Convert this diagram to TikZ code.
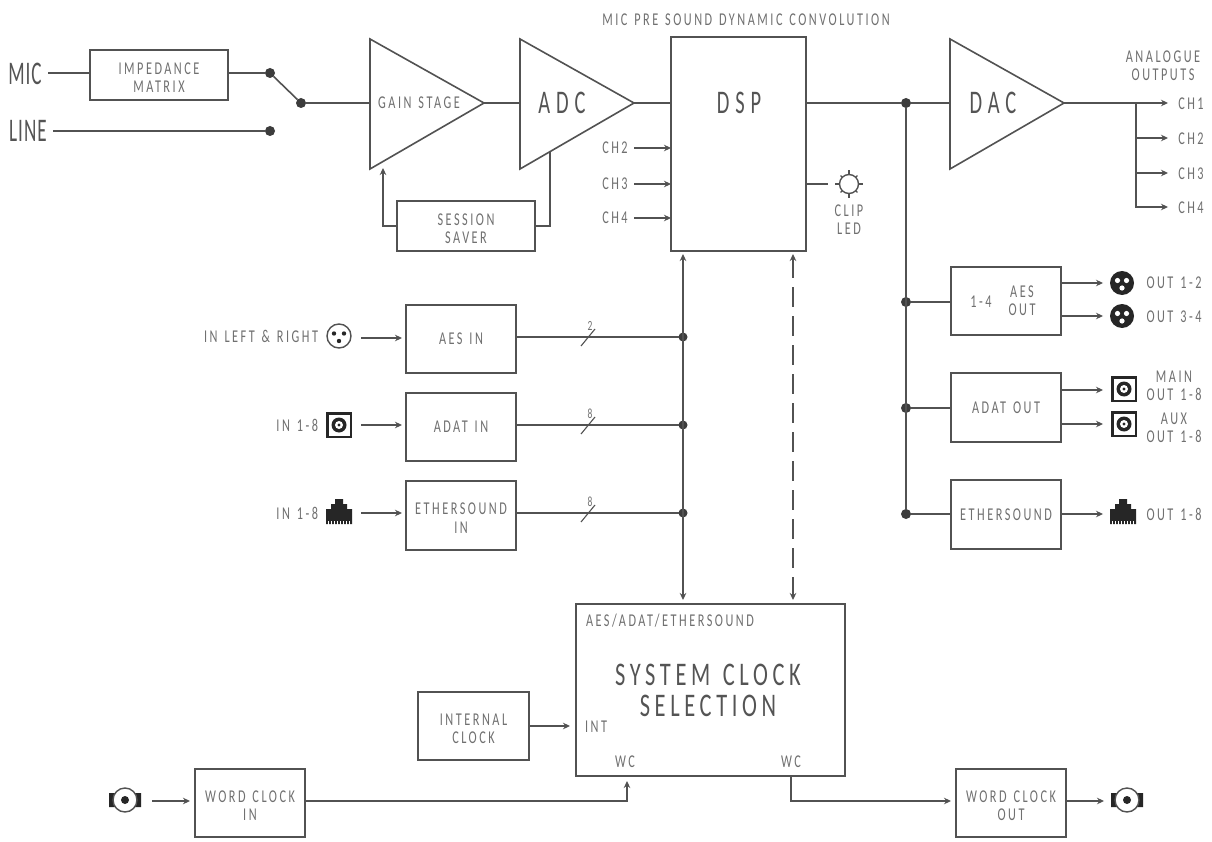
\documentclass[tikz,border=0pt]{standalone}
\usepackage{fontspec}
\usetikzlibrary{arrows.meta,calc}
\newfontfamily\din[FakeStretch=0.68,LetterSpace=14,WordSpace=1.3]{Carlito}
\newfontfamily\dinw[FakeStretch=0.62,LetterSpace=18]{Carlito}
\newfontfamily\dinn[FakeStretch=0.58,LetterSpace=3]{Carlito}
\definecolor{ln}{gray}{0.32}
\definecolor{txt}{gray}{0.44}
\definecolor{big}{gray}{0.33}
\definecolor{ink}{gray}{0.15}
\newcommand{\tp}{\rule{0pt}{17pt}}
\tikzset{
  x=1pt,y=-1pt,
  wire/.style={draw=ln,line width=1.6pt},
  arr/.style={wire,-{Stealth[length=7pt,width=6.5pt]}},
  darr/.style={wire,{Stealth[length=7pt,width=6.5pt]}-{Stealth[length=7pt,width=6.5pt]}},
  box/.style={draw=ln,line width=1.6pt,inner sep=0pt,outer sep=0pt,align=center,text=txt,
    font=\din\fontsize{18}{18.5}\selectfont},
  tri/.style={draw=ln,line width=1.6pt,line join=miter},
  lbl/.style={inner sep=0pt,outer sep=0pt,align=center,text=txt,font=\din\fontsize{18}{18}\selectfont},
  small/.style={inner sep=0pt,outer sep=0pt,align=center,text=txt,font=\din\fontsize{14}{16}\selectfont},
  bigl/.style={inner sep=0pt,outer sep=0pt,align=center,text=big,font=\dinw\fontsize{33}{33}\selectfont},
  inl/.style={inner sep=0pt,outer sep=0pt,text=big,font=\dinn\fontsize{33}{33}\selectfont},
  midl/.style={inner sep=0pt,outer sep=0pt,align=center,text=big,font=\din\fontsize{33}{31}\selectfont},
  dot/.style={circle,fill=ink!90,inner sep=0pt,outer sep=0pt,minimum size=10pt},
  pics/xlro/.style={code={
    \draw[ln,line width=1.4pt] (0,0) circle (12pt);
    \fill[ink] (-5,-2.5) circle (2.2pt) (5,-2.5) circle (2.2pt) (0,5) circle (2.2pt);}},
  pics/xlrf/.style={code={
    \fill[ink] (0,0) circle (12pt);
    \fill[white] (-4.5,-2.5) circle (2.6pt) (4.5,-2.5) circle (2.6pt) (0,5) circle (2.6pt);}},
  pics/opt/.style={code={
    \fill[ink] (-13,-13) rectangle (13,13);
    \fill[white] (-10.5,-10.5) rectangle (10.5,10.5);
    \fill[ink] (0,0) circle (7.5pt);
    \fill[white] (0,0) circle (4pt);
    \fill[ink] (0,0) circle (1.6pt);}},
  pics/rj/.style={code={
    \fill[ink] (-13,12) -- (-13,-3) -- (-8,-3) -- (-8,-8) -- (-4,-8) -- (-4,-13) -- (4,-13) -- (4,-8)
       -- (8,-8) -- (8,-3) -- (13,-3) -- (13,12) -- cycle;
    \foreach \q in {-11,-8,-5,-2,1,4,7,10}{\draw[white,line width=.6pt] (\q,9) -- (\q,12.5);}}},
  pics/bnc/.style={code={
    \fill[ink] (-16,-7) rectangle (-8,7) (8,-7) rectangle (16,7);
    \draw[ln,line width=1.4pt,fill=white] (0,0) circle (12pt);
    \fill[ink] (0,0) circle (4pt);}},
}
\begin{document}
\begin{tikzpicture}
\useasboundingbox (0,0) rectangle (1212,842);
\fill[white] (0,0) rectangle (1212,842);

% triangles
\coordinate (g1) at (370,39); \coordinate (g2) at (370,169); \coordinate (gO) at (484,103); \coordinate (gI) at (370,103);
\coordinate (a1) at (520,39); \coordinate (a2) at (520,169); \coordinate (aO) at (634,103); \coordinate (aI) at (520,103);
\coordinate (d1) at (950,39); \coordinate (d2) at (950,169); \coordinate (dO) at (1064,103); \coordinate (dI) at (950,103);
\draw[tri] (g1) -- (gO) -- (g2) -- cycle;
\draw[tri] (a1) -- (aO) -- (a2) -- cycle;
\draw[tri] (d1) -- (dO) -- (d2) -- cycle;
\node[lbl] (gtxt) at (419,103) {GAIN STAGE};
\node[bigl] (atxt) at (562,103) {ADC};
\node[bigl] (dtxt) at (993,103) {DAC};

% boxes
\node[box,minimum width=138pt,minimum height=50pt] (imp) at (159,75) {\tp IMPEDANCE\\MATRIX};
\node[box,minimum width=138pt,minimum height=50pt] (sess) at (466,226) {\tp SESSION\\SAVER};
\node[box,minimum width=135pt,minimum height=214pt] (dsp) at (738.5,144) {};
\node[bigl] (dsptxt) at (739,103) {DSP};
\node[box,minimum width=110pt,minimum height=68pt] (aesin) at (461,339) {AES IN};
\node[box,minimum width=110pt,minimum height=68pt] (adatin) at (461,427) {ADAT IN};
\node[box,minimum width=110pt,minimum height=69pt] (ethin) at (461,515.5) {\tp ETHERSOUND\\IN};
\node[box,minimum width=110pt,minimum height=68pt] (aesout) at (1006,301) {};
\node[lbl] (fourt) at (981,302) {1-4};
\node[lbl] (aesot) at (1022,301) {AES\\OUT};
\node[box,minimum width=110pt,minimum height=69pt] (adatout) at (1006,407.5) {ADAT OUT};
\node[box,minimum width=110pt,minimum height=69pt] (ethout) at (1006,514.5) {ETHERSOUND};
\node[box,minimum width=269pt,minimum height=172pt] (sys) at (710.5,690) {};
\node[box,minimum width=111pt,minimum height=68pt] (intc) at (473.5,726) {\tp INTERNAL\\CLOCK};
\node[box,minimum width=110pt,minimum height=68pt] (wcin) at (250,803) {\tp WORD CLOCK\\IN};
\node[box,minimum width=110pt,minimum height=68pt] (wcout) at (1011,803) {\tp WORD CLOCK\\OUT};

% texts
\node[inl] (mic) at (25,74) {MIC};
\node[inl] (line) at (28,131) {LINE};
\node[lbl] (title) at (746,20) {MIC PRE SOUND DYNAMIC CONVOLUTION};
\node[lbl] (ch2) at (615,148) {CH2};
\node[lbl] (ch3) at (615,184) {CH3};
\node[lbl] (ch4) at (615,218) {CH4};
\node[lbl] (anal) at (1163,66) {ANALOGUE\\OUTPUTS};
\node[lbl] (och1) at (1191,104) {CH1};
\node[lbl] (och2) at (1191,139) {CH2};
\node[lbl] (och3) at (1191,174) {CH3};
\node[lbl] (och4) at (1191,208) {CH4};
\node[lbl] (clip) at (849,219.5) {CLIP\\LED};
\node[lbl,anchor=east] (inlr) at (318,336) {IN LEFT \& RIGHT};
\node[lbl,anchor=east] (in18a) at (318,425) {IN 1-8};
\node[lbl,anchor=east] (in18b) at (318,513) {IN 1-8};
\node[lbl] (o12) at (1174,283) {OUT 1-2};
\node[lbl] (o34) at (1174,317) {OUT 3-4};
\node[lbl] (omain) at (1174,386) {MAIN\\OUT 1-8};
\node[lbl] (oaux) at (1174,428) {AUX\\OUT 1-8};
\node[lbl] (oeth) at (1174,514) {OUT 1-8};
\node[small] (n2) at (590,326) {2};
\node[small] (n8a) at (590,414) {8};
\node[small] (n8b) at (590,502) {8};
\node[lbl,anchor=west] (aat) at (586,621) {AES/ADAT/ETHERSOUND};
\node[midl] (sct) at (708,690) {SYSTEM CLOCK\\SELECTION};
\node[lbl] (intt) at (596,727) {INT};
\node[lbl] (wc1) at (625,762) {WC};
\node[lbl] (wc2) at (791,762) {WC};

% dots
\node[dot] (s1) at (270,73) {};
\node[dot] (s2) at (301,103) {};
\node[dot] (s3) at (270,131) {};
\node[dot] (j0) at (906,103) {};
\node[dot] (j1) at (906,302) {};
\node[dot] (j2) at (906,408) {};
\node[dot] (j3) at (906,514) {};
\node[dot,minimum size=9pt] (k1) at (683,337) {};
\node[dot,minimum size=9pt] (k2) at (683,425) {};
\node[dot,minimum size=9pt] (k3) at (683,513) {};

% top signal path
\coordinate (micE) at (48,73);
\coordinate (lineE) at (53,131);
\draw[wire] (micE) -- (imp.west |- micE);
\draw[wire] (imp.east |- s1) -- (s1);
\draw[wire] (s1) -- (s2);
\draw[wire] (lineE) -- (s3);
\draw[wire] (s2) -- (gI);
\draw[wire] (gO) -- (aI);
\draw[wire] (aO) -- (dsp.west |- aO);
\draw[wire] (dsp.east |- j0) -- (j0) -- (dI);
\draw[wire] (j0) -- (j3);

% session saver
\coordinate (adcB) at (550,151.5);
\coordinate (gainB) at (383,168);
\draw[wire] (sess.east) -| (adcB);
\draw[arr] (sess.west) -| (gainB);

% CH inputs
\draw[arr] (634,148) -- (dsp.west |- ch2);
\draw[arr] (634,184) -- (dsp.west |- ch3);
\draw[arr] (634,218) -- (dsp.west |- ch4);

% DAC outputs
\coordinate (br) at (1136,103);
\coordinate (c1) at (1168,103);
\coordinate (c2) at (1168,138);
\coordinate (c3) at (1168,173);
\coordinate (c4) at (1168,207);
\draw[wire] (dO) -- (br);
\draw[arr] (br) -- (c1);
\draw[arr] (br |- c2) -- (c2);
\draw[arr] (br |- c3) -- (c3);
\draw[arr] (br) |- (c4);

% clip led
\coordinate (led) at (849,184);
\draw[wire,line width=1.2pt] (dsp.east |- led) -- (828,184);
\draw[ln,line width=1.4pt] (led) circle (9.5pt);
\foreach \a in {0,90,180,270}{\draw[ln,line width=1.2pt] ($(led)+(\a:9.5)$) -- ($(led)+(\a:14)$);}
\foreach \a in {45,135,225,315}{\draw[ln,line width=1.2pt] ($(led)+(\a:9.5)$) -- ($(led)+(\a:12)$);}

% digital inputs
\pic at (339,336) {xlro};
\pic at (339,425) {opt};
\pic at (339,512) {rj};
\coordinate (ia) at (361,338);
\coordinate (ib) at (361,425);
\coordinate (ic) at (361,513);
\draw[arr,line width=1.2pt] (ia) -- ($(aesin.west |- ia)+(-4,0)$);
\draw[arr,line width=1.2pt] (ib) -- ($(adatin.west |- ib)+(-4,0)$);
\draw[arr,line width=1.2pt] (ic) -- ($(ethin.west |- ic)+(-4,0)$);
\draw[wire] (aesin.east |- k1) -- (k1);
\draw[wire] (adatin.east |- k2) -- (k2);
\draw[wire] (ethin.east |- k3) -- (k3);
\draw[ln,line width=1.1pt] (581,346) -- (595,329);
\draw[ln,line width=1.1pt] (581,434) -- (595,417);
\draw[ln,line width=1.1pt] (581,522) -- (595,505);

% DSP <-> clock
\coordinate (v1t) at (683,254);
\coordinate (v1b) at (683,600);
\coordinate (v2t) at (793,254);
\coordinate (v2b) at (793,600);
\draw[darr] (v1t) -- (v1b);
\draw[darr,line width=1.2pt,dash pattern=on 20pt off 9pt] (v2t) -- (v2b);

% digital outputs
\coordinate (ta) at (1103,283);
\coordinate (tb) at (1103,316);
\coordinate (tc) at (1103,390);
\coordinate (td) at (1103,424);
\coordinate (te) at (1103,514);
\draw[wire] (j1) -- (aesout.west |- j1);
\draw[wire] (j2) -- (adatout.west |- j2);
\draw[wire] (j3) -- (ethout.west |- j3);
\draw[arr] (aesout.east |- ta) -- (ta);
\draw[arr] (aesout.east |- tb) -- (tb);
\draw[arr,line width=1.2pt] (adatout.east |- tc) -- (tc);
\draw[arr] (adatout.east |- td) -- (td);
\draw[arr] (ethout.east |- te) -- (te);
\pic at (1122,283) {xlrf};
\pic at (1122,316) {xlrf};
\pic at (1124,389) {opt};
\pic at (1124,424) {opt};
\pic at (1123,512) {rj};

% clocks
\coordinate (intA) at (570,726);
\draw[arr] (intc.east |- intA) -- (intA);
\coordinate (wcT) at (627,781);
\coordinate (wcY) at (627,801);
\draw[arr] (wcin.east |- wcY) -| (wcT);
\coordinate (wcB) at (791,776);
\coordinate (wcO) at (951,801);
\draw[arr] (wcB) |- (wcO);
\coordinate (wi) at (152,801);
\draw[arr,line width=1.2pt] (wi) -- (190,801);
\coordinate (wo) at (1104,801);
\draw[arr] (wcout.east |- wo) -- (wo);
\pic at (125,800) {bnc};
\pic at (1127,800) {bnc};
\end{tikzpicture}
\end{document}
